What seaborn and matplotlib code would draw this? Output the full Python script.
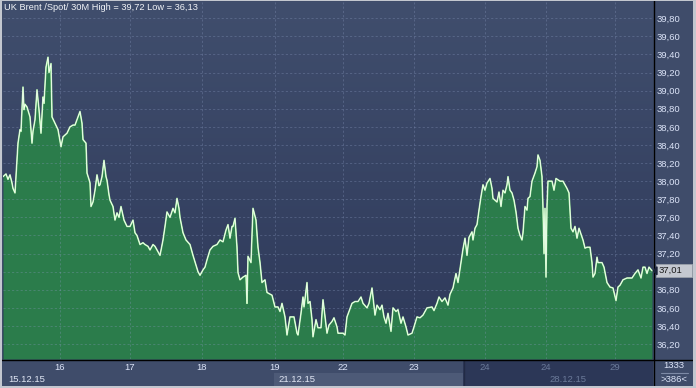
import numpy as np
import matplotlib
matplotlib.use("Agg")
import matplotlib.pyplot as plt
import seaborn as sns
from matplotlib.patches import Rectangle, Polygon
from matplotlib.lines import Line2D
from matplotlib.colors import LinearSegmentedColormap

# ---------------- data ----------------
title_text = "UK Brent /Spot/ 30M High = 39,72 Low = 36,13"

t_idx = [0, 3, 5, 7, 9, 10, 12, 14, 15, 17, 18, 19, 20, 21, 22, 24, 27, 29, 30, 32, 34, 36, 38,
         40, 41, 43, 45, 46, 48, 49, 52, 55, 58, 60, 64, 67, 70, 72, 74, 77, 79, 80, 83, 84, 86,
         87, 88, 90, 92, 94, 96, 97, 99, 101, 103, 104, 106, 107, 110, 112, 114, 116, 118, 121,
         124, 127, 130, 132, 134, 137, 140, 142, 145, 147, 150, 152, 155, 157, 160, 162, 164, 167,
         170, 172, 174, 176, 177, 180, 183, 187, 190, 193, 195, 197, 200, 202, 204, 207, 210, 214,
         217, 220, 223, 225, 227, 229, 230, 232, 234, 235, 237, 240, 243, 244, 245, 248, 250, 253,
         255, 257, 259, 262, 264, 269, 272, 275, 277, 279, 282, 284, 287, 291, 294, 295, 298, 300,
         301, 304, 305, 307, 309, 310, 313, 315, 318, 320, 322, 324, 326, 329, 331, 334, 335, 340,
         342, 344, 346, 349, 352, 355, 358, 360, 364, 366, 369, 370, 372, 374, 377, 379, 381, 383,
         385, 388, 390, 393, 395, 398, 400, 403, 405, 409, 411, 414, 417, 420, 424, 429, 431, 434,
         436, 439, 442, 445, 447, 450, 453, 455, 458, 460, 462, 464, 466, 469, 470, 472, 474, 476,
         478, 480, 482, 484, 487, 489, 490, 494, 496, 498, 500, 502, 504, 505, 507, 509, 511, 513,
         515, 517, 519, 520, 522, 524, 525, 527, 529, 530, 532, 534, 535, 537, 539, 540, 541, 542,
         543, 544, 545, 549, 551, 553, 557, 560, 564, 566, 568, 570, 572, 574, 576, 579, 580, 582,
         584, 587, 589, 590, 592, 594, 595, 599, 601, 604, 607, 610, 613, 615, 617, 620, 624, 629,
         632, 635, 638, 640, 642, 644, 646, 649]

price = [38.05, 38.08, 38.02, 38.07, 37.98, 37.92, 37.87, 38.23, 38.42, 38.57, 38.55, 38.79,
         39.04, 38.79, 38.85, 38.82, 38.71, 38.42, 38.55, 38.68, 39.01, 38.79, 38.53, 38.93,
         38.86, 39.26, 39.37, 39.20, 39.30, 38.71, 38.64, 38.57, 38.38, 38.49, 38.53, 38.60,
         38.62, 38.62, 38.68, 38.77, 38.64, 38.46, 38.42, 38.09, 38.02, 37.98, 37.72, 37.77,
         37.90, 38.07, 37.95, 37.96, 38.05, 38.23, 38.05, 38.01, 37.85, 37.79, 37.72, 37.57,
         37.65, 37.60, 37.72, 37.57, 37.50, 37.50, 37.57, 37.43, 37.40, 37.30, 37.32, 37.30,
         37.28, 37.24, 37.30, 37.28, 37.22, 37.18, 37.35, 37.50, 37.66, 37.60, 37.70, 37.65,
         37.81, 37.70, 37.60, 37.43, 37.35, 37.30, 37.18, 37.07, 37.00, 36.96, 37.02, 37.05,
         37.13, 37.24, 37.28, 37.30, 37.35, 37.33, 37.46, 37.52, 37.37, 37.50, 37.50, 37.59,
         37.27, 36.99, 36.91, 36.94, 36.96, 36.65, 37.17, 37.10, 37.70, 37.57, 37.27, 37.10,
         36.88, 36.91, 36.77, 36.74, 36.61, 36.61, 36.56, 36.65, 36.50, 36.30, 36.50, 36.50,
         36.32, 36.30, 36.54, 36.72, 36.61, 36.88, 36.65, 36.67, 36.47, 36.28, 36.47, 36.38,
         36.38, 36.69, 36.50, 36.32, 36.41, 36.45, 36.49, 36.39, 36.32, 36.32, 36.30, 36.50,
         36.56, 36.65, 36.67, 36.67, 36.72, 36.65, 36.60, 36.65, 36.82, 36.72, 36.52, 36.63,
         36.58, 36.63, 36.50, 36.43, 36.54, 36.34, 36.60, 36.56, 36.58, 36.43, 36.50, 36.39,
         36.30, 36.32, 36.39, 36.50, 36.49, 36.52, 36.60, 36.61, 36.57, 36.65, 36.72, 36.67,
         36.71, 36.63, 36.75, 36.82, 36.98, 36.88, 37.10, 37.25, 37.37, 37.18, 37.38, 37.44,
         37.35, 37.48, 37.52, 37.68, 37.83, 37.96, 37.90, 37.98, 38.03, 37.92, 37.81, 37.77,
         37.88, 37.72, 37.90, 37.87, 37.96, 38.05, 37.90, 37.87, 37.79, 37.66, 37.48, 37.40,
         37.35, 37.43, 37.72, 37.68, 37.81, 37.83, 38.00, 38.03, 38.09, 38.16, 38.29, 38.23,
         38.05, 37.70, 37.20, 37.70, 36.94, 37.72, 38.00, 38.00, 37.90, 38.03, 38.00, 38.00,
         37.92, 37.87, 37.48, 37.44, 37.50, 37.37, 37.48, 37.38, 37.35, 37.26, 37.27, 37.27,
         37.10, 36.94, 36.98, 37.16, 37.10, 37.10, 37.05, 36.88, 36.83, 36.82, 36.68, 36.83,
         36.85, 36.91, 36.93, 36.93, 36.98, 37.02, 36.93, 37.05, 37.05, 36.98, 37.05, 37.01]

y_tick_values = [36.20, 36.40, 36.60, 36.80, 37.00, 37.20, 37.40, 37.60, 37.80, 38.00,
                 38.20, 38.40, 38.60, 38.80, 39.00, 39.20, 39.40, 39.60, 39.80]
x_tick_pos = [57, 127, 199, 272, 340, 411, 482, 543, 612]
x_tick_labels = ["16", "17", "18", "19", "22", "23", "24", "24", "29"]
week_labels = ["15.12.15", "21.12.15", "28.12.15"]
last_price = 37.01
bar_count = "1333"
visible_count = ">386<"

# ---------------- style ----------------
sns.set_style("dark")
plt.rcParams["font.family"] = ["Liberation Sans", "DejaVu Sans"]

W, H = 696, 388
Y_LO, Y_HI = 36.035, 39.98
X_LO, X_HI = 0, 650

fig = plt.figure(figsize=(W / 100, H / 100), dpi=100)
fig.patch.set_facecolor("#3f4c6a")


def fx(px):
    return px / W


def fy(py):
    return 1 - py / H


ax = fig.add_axes([fx(3), fy(359), fx(653) - fx(3), fy(2) - fy(359)])
ax.set_facecolor("#38445f")

bg = LinearSegmentedColormap.from_list("bg", ["#404e6d", "#2e395a"])
ax.imshow(np.linspace(0, 1, 256).reshape(-1, 1), cmap=bg, aspect="auto",
          extent=[X_LO, X_HI, Y_LO, Y_HI], origin="upper", zorder=0)

ax.fill_between(t_idx, price, Y_LO, color="#2b7c4b", lw=0, zorder=1)

dash = (0, (2.2, 2.2))
for yv in y_tick_values:
    ax.axhline(yv, color="#8a9ac0", alpha=0.33, lw=0.7, ls=dash, zorder=2)
for xv in x_tick_pos:
    ax.axvline(xv, color="#8a9ac0", alpha=0.33, lw=0.7, ls=dash, zorder=2)

sns.lineplot(x=t_idx, y=price, ax=ax, color="#a8f0a0", lw=1.15, estimator=None,
             sort=False, zorder=3)
sns.lineplot(x=t_idx, y=price, ax=ax, color="#ffffff", lw=0.5, estimator=None,
             sort=False, zorder=4)

ax.set_xlim(X_LO, X_HI)
ax.set_ylim(Y_LO, Y_HI)
for s in ax.spines.values():
    s.set_visible(False)
ax.grid(False)

ax.yaxis.tick_right()
ax.set_yticks(y_tick_values)
# the label hidden behind the last-price tag is left blank
ax.set_yticklabels(["" if abs(v - last_price) < 0.1 else f"{v:.2f}".replace(".", ",")
                    for v in y_tick_values])
ax.tick_params(axis="y", length=0, pad=2.5, labelsize=6.8, labelcolor="#dce4f8")
ax.set_ylabel("")

ax.set_xticks(x_tick_pos)
ax.set_xticklabels(x_tick_labels)
ax.tick_params(axis="x", length=0, pad=3.0, labelsize=6.8, labelcolor="#dce4f8")
for lbl in ax.get_xticklabels()[6:]:
    lbl.set_color("#6b7a99")
ax.set_xlabel("")

# title
fig.text(fx(4), fy(8), title_text, ha="left", va="center", fontsize=6.7, color="#f2f4f8")

# bottom date strip
fig.add_artist(Rectangle((fx(274), fy(386)), fx(463) - fx(274), fy(373) - fy(386),
                         transform=fig.transFigure, color="#4d5a77", lw=0, zorder=0))
fig.add_artist(Rectangle((fx(463), fy(386)), fx(653) - fx(463), fy(361) - fy(386),
                         transform=fig.transFigure, color="#2c3757", lw=0, zorder=0))
fig.add_artist(Line2D([fx(463.5), fx(463.5)], [fy(361), fy(386)], transform=fig.transFigure,
                      color="#222b45", lw=1))
fig.text(fx(8), fy(379), week_labels[0], ha="left", va="center", fontsize=6.8, color="#e0e6f4")
fig.text(fx(278), fy(379), week_labels[1], ha="left", va="center", fontsize=6.8, color="#e0e6f4")
fig.text(fx(549), fy(379), week_labels[2], ha="left", va="center", fontsize=6.8, color="#6b7a99")

# right panel counters
fig.text(fx(674), fy(366), bar_count, ha="center", va="center", fontsize=6.8, color="#dce4f8")
fig.add_artist(Line2D([fx(661), fx(688)], [fy(372.5), fy(372.5)], transform=fig.transFigure,
                      color="#7d8aa6", lw=0.8))
fig.text(fx(674), fy(380), visible_count, ha="center", va="center", fontsize=6.8, color="#dce4f8")

# last price tag
tag_y = 359 - (last_price - Y_LO) / (Y_HI - Y_LO) * 357
fig.add_artist(Rectangle((fx(656), fy(tag_y + 6.5)), fx(692) - fx(656), fy(tag_y - 6.5) - fy(tag_y + 6.5),
                         transform=fig.transFigure, facecolor="#c4c8d0", edgecolor="#9aa0aa",
                         lw=0.6, zorder=5))
fig.add_artist(Polygon([[fx(653.5), fy(tag_y)], [fx(657), fy(tag_y - 4)], [fx(657), fy(tag_y + 4)]],
                       closed=True, transform=fig.transFigure, color="#1a2238", zorder=6))
fig.text(fx(659), fy(tag_y), f"{last_price:.2f}".replace(".", ","), ha="left", va="center",
         fontsize=6.8, color="#1a1a1a", zorder=7)

# black separators
fig.add_artist(Line2D([fx(653.5), fx(653.5)], [fy(0), fy(388)], transform=fig.transFigure,
                      color="#000000", lw=1, zorder=4))
fig.add_artist(Line2D([fx(0), fx(693)], [fy(359.5), fy(359.5)], transform=fig.transFigure,
                      color="#000000", lw=1, zorder=4))

# outer light frame
frame_c = "#c3c7cf"
fig.add_artist(Rectangle((0, 0), fx(2), 1, transform=fig.transFigure, color=frame_c, lw=0, zorder=8))
fig.add_artist(Rectangle((0, 0), 1, 1 - fy(2), transform=fig.transFigure, color=frame_c, lw=0, zorder=8))
fig.add_artist(Rectangle((fx(693), 0), 1 - fx(693), 1, transform=fig.transFigure, color=frame_c, lw=0, zorder=8))
fig.add_artist(Rectangle((0, fy(1)), 1, 1 - fy(1), transform=fig.transFigure, color=frame_c, lw=0, zorder=8))

fig.savefig("out.png", dpi=100, facecolor=fig.get_facecolor())
